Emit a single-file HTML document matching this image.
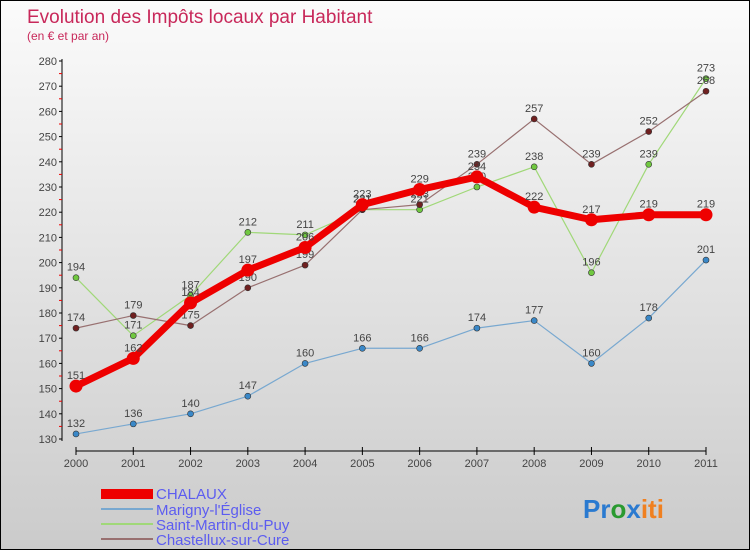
<!DOCTYPE html>
<html><head><meta charset="utf-8"><style>
body{margin:0;width:750px;height:550px;overflow:hidden;font-family:"Liberation Sans",sans-serif}
#c{position:absolute;left:0;top:0;width:748px;height:548px;border:1px solid #000;background:linear-gradient(#fbfbfb,#cbcbcb)}
</style></head><body>
<div id="c">
<svg id="s" width="748" height="548" style="position:absolute;left:0;top:0">
<text x="26" y="22" font-size="19" fill="#c8285a">Evolution des Impôts locaux par Habitant</text>
<text x="26" y="39" font-size="12" fill="#c8285a">(en € et par an)</text>
<g id="axes"></g><g id="series"></g>
<g>
<rect x="100" y="488" width="52" height="10" fill="#e00"/>
<text x="155" y="498" font-size="15" fill="#5c5cf0">CHALAUX</text>
<rect x="100" y="507" width="52" height="2" fill="#78a8d0"/>
<text x="155" y="514" font-size="15" fill="#5c5cf0">Marigny-l'Église</text>
<rect x="100" y="522" width="52" height="2" fill="#a0d878"/>
<text x="155" y="529" font-size="15" fill="#5c5cf0">Saint-Martin-du-Puy</text>
<rect x="100" y="537" width="52" height="2" fill="#987070"/>
<text x="155" y="544" font-size="15" fill="#5c5cf0">Chastellux-sur-Cure</text>
</g>
<text x="582" y="517" font-size="26" font-weight="bold"><tspan fill="#2a7ad0">Pr</tspan><tspan fill="#2a9a30">o</tspan><tspan fill="#2a7ad0">x</tspan><tspan fill="#f08020">iti</tspan></text>
</svg></div>
<script>
const years=["2000","2001","2002","2003","2004","2005","2006","2007","2008","2009","2010","2011"];
const yTicks=[130,140,150,160,170,180,190,200,210,220,230,240,250,260,270,280];
const chalaux=[151,162,184,197,206,223,229,234,222,217,219,219];
const marigny=[132,136,140,147,160,166,166,174,177,160,178,201];
const saintMartin=[194,171,187,212,211,221,221,230,238,196,239,273];
const chastellux=[174,179,175,190,199,221,223,239,257,239,252,268];
const NS="http://www.w3.org/2000/svg";
function X(i){return 75+i*(630/11);}
function Y(v){return 438-(v-130)*2.52;}
function mk(t,a,p){const e=document.createElementNS(NS,t);for(const k in a)e.setAttribute(k,a[k]);p.appendChild(e);return e;}
const ax=document.getElementById('axes');
let l=mk('line',{x1:61,y1:58,x2:61,y2:440,stroke:'#000'},ax);


l=mk('line',{x1:75,y1:450,x2:705,y2:450,stroke:'#000'},ax);


yTicks.forEach(v=>{mk('line',{x1:58,y1:Y(v),x2:61,y2:Y(v),stroke:'#000'},ax);
mk('line',{x1:58,y1:Y(v)+12.6,x2:61,y2:Y(v)+12.6,stroke:v>130?'#e00':'none'},ax);
const t=mk('text',{x:56,y:Y(v)+4,'font-size':11,fill:'#444','text-anchor':'end'},ax);t.textContent=v;

});
years.forEach((y,i)=>{mk('line',{x1:X(i),y1:446,x2:X(i),y2:454,stroke:'#000'},ax);
const t=mk('text',{x:X(i),y:466,'font-size':11,fill:'#444','text-anchor':'middle'},ax);t.textContent=y;

});
const sg=document.getElementById('series');
function draw(d,name,col,w,r,dot){
const g=mk('g',{},sg);


const p=mk('polyline',{points:d.map((v,i)=>X(i)+','+Y(v)).join(' '),fill:'none',stroke:col,'stroke-width':w,'stroke-linejoin':'round'},g);


d.forEach((v,i)=>{const c=mk('circle',{cx:X(i),cy:Y(v),r:r,fill:dot,stroke:'#333','stroke-width':r>5?0:0.6},g);


const t=mk('text',{x:X(i),y:Y(v)-7,'font-size':11,fill:'#444','text-anchor':'middle'},g);t.textContent=v;

});}
draw(marigny,'marigny','#78a8d0',1.2,3,'#3a88c8');
draw(saintMartin,'saint-martin','#a0d878',1.2,3,'#70c840');
draw(chastellux,'chastellux','#987070',1.2,3,'#702020');
draw(chalaux,'chalaux','#e00',7,6.5,'#e00');
</script></body></html>
